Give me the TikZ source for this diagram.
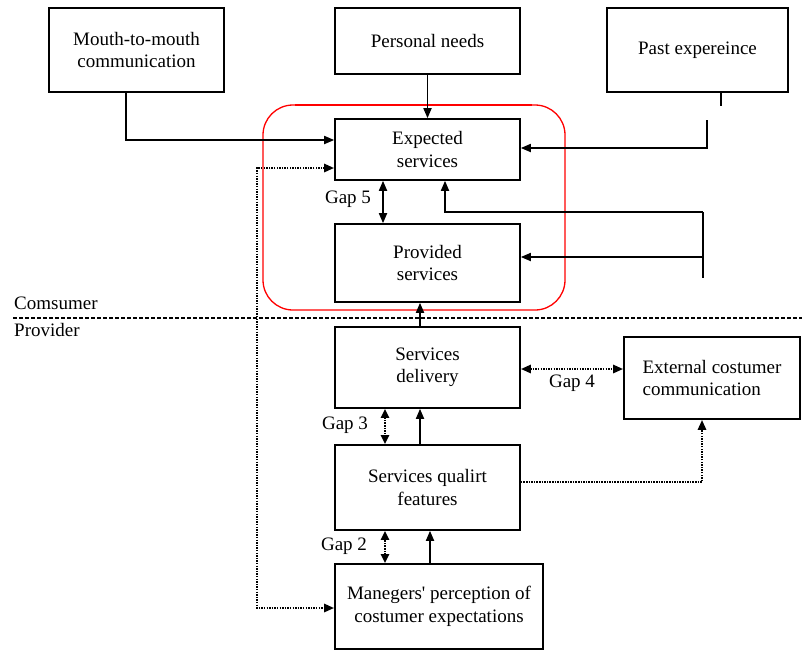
\documentclass[tikz,border=0pt]{standalone}
\usepackage{fontspec}
\setmainfont{Liberation Serif}
\newfontfamily\rawserif{Liberation Serif}[Ligatures=TeXOff]
\usetikzlibrary{arrows.meta}
\begin{document}
\begin{tikzpicture}[x=1pt,y=1pt,
  every node/.style={font=\fontsize{19}{22.5}\selectfont},
  box/.style={draw, line width=1.6pt, align=center, inner sep=0pt},
  arr/.style={line width=1.7pt, -{Triangle[length=10pt,width=8pt]}},
  darr/.style={line width=1.7pt, {Triangle[length=10pt,width=8pt]}-{Triangle[length=10pt,width=8pt]}},
  ln/.style={line width=1.7pt},
  dotln/.style={line width=2.6pt, dash pattern=on 1.5pt off 1.1pt},
  lbl/.style={inner sep=0pt}
]
\useasboundingbox (0,0) rectangle (802,-651);

% boxes
\node[box, minimum width=175pt, minimum height=84pt] (mouth) at (136.5,-50) {Mouth-to-mouth\\communication};
\node[box, minimum width=185pt, minimum height=66pt] (personal) at (427.5,-41) {Personal needs};
\node[box, minimum width=181pt, minimum height=84pt] (past) at (697.5,-50) {Past expereince};
\node[box, minimum width=185pt, minimum height=61pt] (expected) at (427.5,-149.5) {Expected\\services};
\node[box, minimum width=185pt, minimum height=78pt] (provided) at (427.5,-263) {Provided\\services};
\node[box, minimum width=185pt, minimum height=81pt] (delivery) at (427.5,-367.5) {Services\\delivery};
\node[box, minimum width=185pt, minimum height=85pt] (quality) at (427.5,-487.5) {Services qualirt\\features};
\node[box, minimum width=208pt, minimum height=85pt] (managers) at (439,-606.5) {Manegers{\rawserif '} perception of\\costumer expectations};
\node[box, minimum width=176pt, minimum height=82pt, align=left] (external) at (712,-378) {External costumer\\communication};

% red frame
\draw[red, line width=1.3pt, rounded corners=30pt] (263,-105) rectangle (565,-310);
\draw[red, line width=2.4pt] (295,-105) -- (532,-105);

% consumer / provider divider
\coordinate (divL) at (13,-318);
\coordinate (divR) at (802,-318);
\draw[line width=1.6pt, dash pattern=on 3.5pt off 2.5pt] (divL) -- (divR);
\node[lbl, anchor=west] (cons) at (14,-303) {Comsumer};
\node[lbl, anchor=west] (prov) at (14,-330) {Provider};

% consumer side connectors
\draw[arr] ([xshift=-10.5pt]mouth.south) |- ([yshift=9.5pt]expected.west);
\draw[arr] (personal.south) -- (expected.north);
\draw[ln] ([xshift=23.5pt]past.south) -- ++(0,-13);
\coordinate (pe1) at (707,-120);
\draw[arr] (pe1) |- ([yshift=1.5pt]expected.east);
\coordinate (fbt) at (703,-212);
\coordinate (fbb) at (703,-278);
\coordinate (fbm) at (703,-257);
\draw[ln] (fbt) -- (fbb);
\draw[arr] (fbt) -| ([xshift=17.5pt]expected.south);
\draw[arr] (fbm) -- (fbm -| provided.east);
\draw[darr] ([xshift=-44.5pt]expected.south) -- ([xshift=-44.5pt]provided.north);
\node[lbl] (g5) at (348,-199) {Gap 5};

% provider side connectors
\draw[arr] ([xshift=-7.5pt]delivery.north) -- ([xshift=-7.5pt]provided.south);
\coordinate (dl) at (257,-168);
\draw[dotln, {Triangle[length=10pt,width=8pt]}-{Triangle[length=10pt,width=8pt]}] (dl -| expected.west) -- (dl) |- ([yshift=-1.5pt]managers.west);

\draw[dotln, {Triangle[length=9pt,width=8pt]}-{Triangle[length=9pt,width=8pt]}] ([xshift=-42.5pt]delivery.south) -- ([xshift=-42.5pt]quality.north);
\draw[arr] ([xshift=-7.5pt]quality.north) -- ([xshift=-7.5pt]delivery.south);
\node[lbl] (g3) at (345,-425) {Gap 3};

\draw[dotln, {Triangle[length=9pt,width=8pt]}-{Triangle[length=9pt,width=8pt]}] ([xshift=-54pt]managers.north) -- ([xshift=-54pt]managers.north |- quality.south);
\draw[arr] ([xshift=-9pt]managers.north) -- ([xshift=-9pt]managers.north |- quality.south);
\node[lbl] (g2) at (344,-546) {Gap 2};

\draw[dotln, {Triangle[length=10pt,width=8pt]}-{Triangle[length=10pt,width=8pt]}] ([yshift=-1.5pt]delivery.east) -- ([yshift=-1.5pt]delivery.east -| external.west);
\node[lbl] (g4) at (572,-383) {Gap 4};

\draw[dotln, -{Triangle[length=10pt,width=8pt]}] ([yshift=5.5pt]quality.east) -| ([xshift=-10pt]external.south);
\end{tikzpicture}
\end{document}
